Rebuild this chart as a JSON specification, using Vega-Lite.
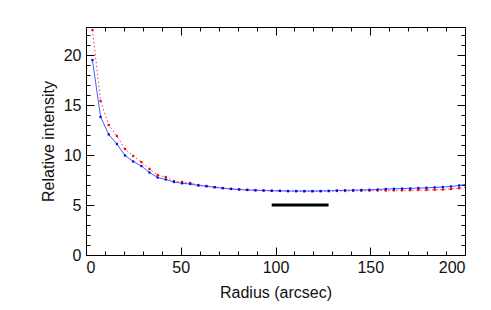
{
  "$schema": "https://vega.github.io/schema/vega-lite/v6.json",
  "width": 379,
  "height": 228,
  "autosize": {"type": "none"},
  "padding": {"left": 86, "top": 27, "right": 26, "bottom": 55},
  "background": "white",
  "config": {
    "view": {"stroke": "black", "strokeWidth": 1},
    "axis": {"grid": false, "domain": false, "tickColor": "black", "tickWidth": 1, "labelFont": "Liberation Sans", "labelFontSize": 16, "labelColor": "#111111", "titleFont": "Liberation Sans", "titleFontSize": 16, "titleFontWeight": "normal", "titleColor": "#111111"}
  },
  "datasets": {
    "profiles": [
      {"radius": 3.4, "red": 22.5, "blue": 19.5},
      {"radius": 7.7, "red": 15.4, "blue": 13.8},
      {"radius": 12.0, "red": 13.0, "blue": 12.05},
      {"radius": 16.3, "red": 11.9, "blue": 11.1},
      {"radius": 20.6, "red": 10.6, "blue": 9.95},
      {"radius": 24.9, "red": 9.9, "blue": 9.35},
      {"radius": 29.2, "red": 9.3, "blue": 8.9},
      {"radius": 33.5, "red": 8.6, "blue": 8.25},
      {"radius": 37.8, "red": 8.0, "blue": 7.75},
      {"radius": 42.1, "red": 7.8, "blue": 7.55},
      {"radius": 46.4, "red": 7.4, "blue": 7.3},
      {"radius": 50.7, "red": 7.3, "blue": 7.17},
      {"radius": 55.0, "red": 7.2, "blue": 7.1},
      {"radius": 59.3, "red": 7.0, "blue": 6.95},
      {"radius": 63.6, "red": 6.9, "blue": 6.87},
      {"radius": 67.9, "red": 6.8, "blue": 6.77},
      {"radius": 72.2, "red": 6.7, "blue": 6.68},
      {"radius": 76.5, "red": 6.62, "blue": 6.6},
      {"radius": 80.8, "red": 6.57, "blue": 6.55},
      {"radius": 85.1, "red": 6.52, "blue": 6.5},
      {"radius": 89.4, "red": 6.48, "blue": 6.47},
      {"radius": 93.7, "red": 6.45, "blue": 6.45},
      {"radius": 98.0, "red": 6.42, "blue": 6.43},
      {"radius": 102.3, "red": 6.4, "blue": 6.42},
      {"radius": 106.6, "red": 6.38, "blue": 6.4},
      {"radius": 110.9, "red": 6.37, "blue": 6.4},
      {"radius": 115.2, "red": 6.36, "blue": 6.4},
      {"radius": 119.5, "red": 6.36, "blue": 6.4},
      {"radius": 123.8, "red": 6.37, "blue": 6.4},
      {"radius": 128.1, "red": 6.38, "blue": 6.42},
      {"radius": 132.4, "red": 6.4, "blue": 6.45},
      {"radius": 136.7, "red": 6.4, "blue": 6.47},
      {"radius": 141.0, "red": 6.42, "blue": 6.48},
      {"radius": 145.3, "red": 6.43, "blue": 6.5},
      {"radius": 149.6, "red": 6.44, "blue": 6.52},
      {"radius": 153.9, "red": 6.45, "blue": 6.55},
      {"radius": 158.2, "red": 6.45, "blue": 6.6},
      {"radius": 162.5, "red": 6.46, "blue": 6.62},
      {"radius": 166.8, "red": 6.47, "blue": 6.64},
      {"radius": 171.1, "red": 6.48, "blue": 6.66},
      {"radius": 175.4, "red": 6.5, "blue": 6.7},
      {"radius": 179.7, "red": 6.5, "blue": 6.72},
      {"radius": 184.0, "red": 6.52, "blue": 6.76},
      {"radius": 188.3, "red": 6.55, "blue": 6.8},
      {"radius": 192.6, "red": 6.6, "blue": 6.85},
      {"radius": 196.9, "red": 6.68, "blue": 6.95},
      {"radius": 201.2, "red": 6.8, "blue": 7.1}
    ],
    "bar": [
      {"radius": 98, "level": 5},
      {"radius": 128, "level": 5}
    ]
  },
  "resolve": {"axis": {"x": "independent", "y": "independent"}},
  "layer": [
    {
      "data": {"name": "profiles"},
      "mark": {"type": "line", "color": "#ff3030", "strokeWidth": 1, "strokeDash": [1.5, 2.5], "clip": true},
      "encoding": {
        "x": {"field": "radius", "type": "quantitative", "scale": {"domain": [0, 200], "nice": false, "zero": false},
          "axis": {"orient": "bottom", "values": [0, 50, 100, 150, 200], "tickSize": -8, "labelPadding": 12, "title": "Radius (arcsec)", "titlePadding": 9}},
        "y": {"field": "red", "type": "quantitative", "scale": {"domain": [0, 22.8], "nice": false, "zero": false},
          "axis": {"orient": "left", "values": [0, 5, 10, 15, 20], "tickSize": -8, "labelPadding": 13, "title": "Relative intensity", "titlePadding": 7}}
      }
    },
    {
      "data": {"name": "profiles"},
      "mark": {"type": "point", "shape": "square", "filled": true, "color": "#ff0000", "size": 5, "opacity": 1, "clip": true},
      "encoding": {
        "x": {"field": "radius", "type": "quantitative", "scale": {"domain": [0, 200], "nice": false, "zero": false},
          "axis": {"orient": "bottom", "values": [10, 20, 30, 40, 60, 70, 80, 90, 110, 120, 130, 140, 160, 170, 180, 190], "tickSize": -4, "labels": false, "title": null}},
        "y": {"field": "red", "type": "quantitative", "scale": {"domain": [0, 22.8], "nice": false, "zero": false},
          "axis": {"orient": "left", "values": [1, 2, 3, 4, 6, 7, 8, 9, 11, 12, 13, 14, 16, 17, 18, 19, 21, 22], "tickSize": -4, "labels": false, "title": null}}
      }
    },
    {
      "data": {"name": "profiles"},
      "mark": {"type": "line", "color": "#3a64ff", "strokeWidth": 1, "clip": true},
      "encoding": {
        "x": {"field": "radius", "type": "quantitative", "scale": {"domain": [0, 200], "nice": false, "zero": false},
          "axis": {"orient": "top", "values": [0, 50, 100, 150, 200], "tickSize": -8, "labels": false, "title": null}},
        "y": {"field": "blue", "type": "quantitative", "scale": {"domain": [0, 22.8], "nice": false, "zero": false},
          "axis": {"orient": "right", "values": [0, 5, 10, 15, 20], "tickSize": -8, "labels": false, "title": null}}
      }
    },
    {
      "data": {"name": "profiles"},
      "mark": {"type": "point", "shape": "square", "filled": true, "color": "#0000ff", "size": 5, "opacity": 1, "clip": true},
      "encoding": {
        "x": {"field": "radius", "type": "quantitative", "scale": {"domain": [0, 200], "nice": false, "zero": false},
          "axis": {"orient": "top", "values": [10, 20, 30, 40, 60, 70, 80, 90, 110, 120, 130, 140, 160, 170, 180, 190], "tickSize": -4, "labels": false, "title": null}},
        "y": {"field": "blue", "type": "quantitative", "scale": {"domain": [0, 22.8], "nice": false, "zero": false},
          "axis": {"orient": "right", "values": [1, 2, 3, 4, 6, 7, 8, 9, 11, 12, 13, 14, 16, 17, 18, 19, 21, 22], "tickSize": -4, "labels": false, "title": null}}
      }
    },
    {
      "data": {"name": "bar"},
      "mark": {"type": "line", "color": "black", "strokeWidth": 3},
      "encoding": {
        "x": {"field": "radius", "type": "quantitative", "scale": {"domain": [0, 200], "nice": false, "zero": false}, "axis": null},
        "y": {"field": "level", "type": "quantitative", "scale": {"domain": [0, 22.8], "nice": false, "zero": false}, "axis": null}
      }
    }
  ]
}
